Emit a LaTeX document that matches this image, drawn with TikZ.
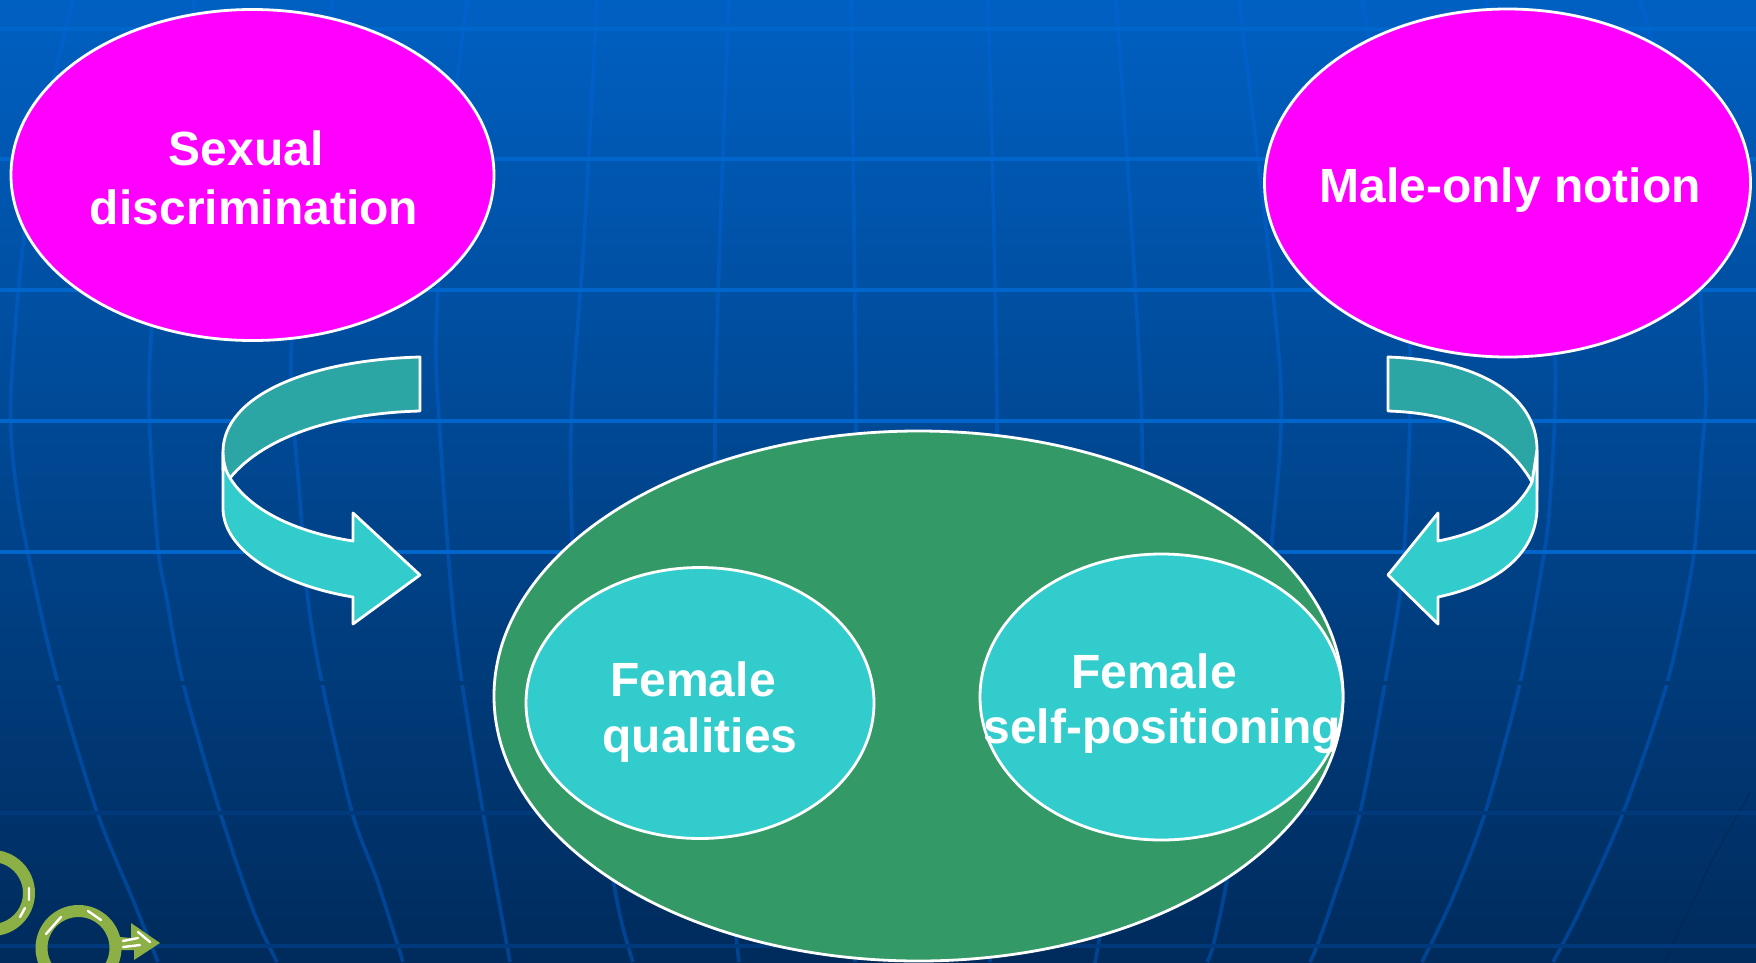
\documentclass[tikz,border=0pt]{standalone}
\usepackage{fontspec}
\setmainfont{Liberation Sans}
\usetikzlibrary{shapes.geometric}
\definecolor{bgtop}{HTML}{0060C2}
\definecolor{bgbot}{HTML}{002B5C}
\definecolor{gridc}{HTML}{0066DD}
\definecolor{hbright}{HTML}{0066CC}
\definecolor{hdim}{HTML}{003A7C}
\definecolor{hfaint}{HTML}{003A78}
\definecolor{darkc}{HTML}{00244F}
\definecolor{mag}{HTML}{FF00FF}
\definecolor{tealdark}{HTML}{2CA5A5}
\definecolor{cyanc}{HTML}{33CCCC}
\definecolor{greenc}{HTML}{339966}
\definecolor{ornc}{HTML}{8CAF46}
\tikzset{
  x=1pt,y=-1pt,
  hgrid/.style={draw=hbright,line width=3.4pt},
  hgriddim/.style={draw=hdim,line width=3.4pt},
  vgrid/.style={draw=gridc,line width=3.6pt,opacity=.42},
  oval/.style={ellipse,draw=white,line width=2.8pt,inner sep=0pt},
  band/.style={draw=white,line width=2.8pt,line join=round},
  lab/.style={text=white,font=\fontsize{48}{58}\selectfont\bfseries,inner sep=0pt,anchor=base},
  ring/.style={draw=ornc,line width=12pt},
  glint/.style={draw=white,line width=2.4pt,line cap=round},
}
\begin{document}
\begin{tikzpicture}
\useasboundingbox (0,0) rectangle (1756,962);
\begin{scope}
\clip (0,0) rectangle (1756,962);
\shade[top color=bgtop,bottom color=bgbot] (0,0) rectangle (1756,962);
% curved grid
\draw[vgrid] plot[smooth] coordinates {(73,0) (30,190) (11,392) (17,493) (38,600) (58,683) (97,812) (133,900) (158,962)};
\draw[vgrid] plot[smooth] coordinates {(195,0) (165,190) (149,380) (157,538) (167,600) (183,683) (220,812) (253,910) (277,962)};
\draw[vgrid] plot[smooth] coordinates {(333,0) (305,190) (291,360) (300,500) (308,600) (322,683) (352,812) (377,880) (403,962)};
\draw[vgrid] plot[smooth] coordinates {(467,0) (445,190) (436,340) (441,450) (452,600) (462,683) (483,812) (510,962)};
\draw[vgrid] plot[smooth] coordinates {(597,0) (584,240) (571,430) (575,600) (590,720) (616,896) (633,962)};
\draw[vgrid] plot[smooth] coordinates {(729,0) (715,430) (725,800) (739,962)};
\draw[vgrid] plot[smooth] coordinates {(851,0) (856,430) (855,962)};
\draw[vgrid] plot[smooth] coordinates {(988,0) (997,430) (990,962)};
\draw[vgrid] plot[smooth] coordinates {(1116,0) (1142,430) (1130,750) (1098,946) (1095,962)};
\draw[vgrid] plot[smooth] coordinates {(1239,0) (1280,370) (1272,540) (1258,700) (1227,880) (1213,946) (1207,962)};
\draw[vgrid] plot[smooth] coordinates {(1362,0) (1395,190) (1410,350) (1407,500) (1400,593) (1385,683) (1360,813) (1333,900) (1317,946) (1310,962)};
\draw[vgrid] plot[smooth] coordinates {(1485,0) (1535,180) (1555,360) (1550,500) (1543,560) (1520,683) (1485,813) (1453,897) (1430,946) (1422,962)};
\draw[vgrid] plot[smooth] coordinates {(1640,0) (1690,180) (1703,340) (1706,400) (1702,450) (1693,560) (1667,683) (1623,813) (1580,910) (1553,962)};
\draw[draw=darkc,line width=1.6pt,opacity=.45] plot[smooth] coordinates {(1750,793) (1710,865) (1665,962)};
% horizontal grid
\foreach \yy in {29,159,290,421,552}
  \draw[hgrid] (0,\yy) -- (1756,\yy);
\draw[draw=hfaint,line width=3.4pt] (0,683) -- (1756,683);
\foreach \yy in {813,946}
  \draw[hgriddim] (0,\yy) -- (1756,\yy);
% ornament
\draw[ring] (-8,893) circle (37);
\draw[ring] (78.5,948) circle (37);
\path[fill=ornc] (120,937) -- (131,938) -- (131,923) -- (160,943) -- (134,960) -- (134,950) -- (120,950) -- cycle;
\draw[glint] (46,934) -- (61,917);
\draw[glint] (88,911) -- (101,920);
\draw[glint] (29,888) -- (29,900) (25,908) -- (20,917);
\draw[glint] (123,941) -- (138,938) (123,947) -- (140,945) (138,932) -- (150,942);
\end{scope}
% ovals
\node[oval,fill=mag,minimum width=483pt,minimum height=331pt] (sexual) at (252.5,175) {};
\node[oval,fill=mag,minimum width=486pt,minimum height=348pt] (male) at (1507.5,183) {};
\node[oval,fill=greenc,minimum width=849pt,minimum height=530pt] (big) at (918.5,696) {};
\node[oval,fill=cyanc,minimum width=348pt,minimum height=271pt] (fq) at (700,703) {};
\node[oval,fill=cyanc,minimum width=363pt,minimum height=286pt] (fs) at (1161.5,697) {};
% left arrow
\draw[band,fill=tealdark] (420,357) .. controls (310,360) and (223,395) .. (223,452)
  -- (223,470) -- (230,478) .. controls (265,435) and (340,413) .. (420,411) -- cycle;
\draw[band,fill=cyanc] (223,452) -- (223,508) .. controls (223,550) and (280,585) .. (353,597)
  -- (353,624) -- (420,575) -- (353,513) -- (353,541)
  .. controls (295,532) and (250,510) .. (230,478) .. controls (225,470) and (223,460) .. (223,452) -- cycle;
% right arrow
\draw[band,fill=tealdark] (1388,357) .. controls (1478,360) and (1537,395) .. (1537,450)
  -- (1537,490) -- (1532,482) .. controls (1505,435) and (1455,413) .. (1388,411) -- cycle;
\draw[band,fill=cyanc] (1537,450) -- (1537,507) .. controls (1537,555) and (1495,585) .. (1438,597)
  -- (1438,624) -- (1388,575) -- (1438,513) -- (1438,541)
  .. controls (1485,532) and (1517,512) .. (1532,482) -- cycle;
% labels
\node[lab] (t1) at (246,165) {Sexual};
\node[lab] (t2) at (254,224) {discrimination};
\node[lab] (t3) at (1510,202) {Male-only notion};
\node[lab] (t4) at (693,696) {Female};
\node[lab] (t5) at (700,752) {qualities};
\node[lab] (t6) at (1154,688) {Female};
\node[lab] (t7) at (1162,743) {self-positioning};
\end{tikzpicture}
\end{document}
